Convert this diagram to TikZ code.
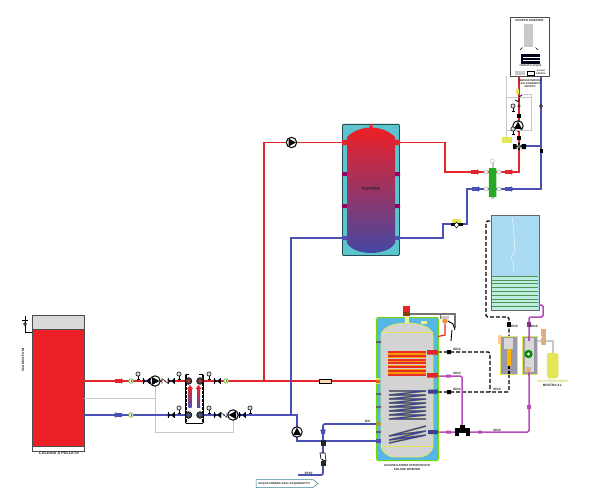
\documentclass[tikz,border=0pt]{standalone}
\usepackage{fontspec}
\setmainfont{Liberation Sans}
\definecolor{pred}{HTML}{E4252B}
\definecolor{pblue}{HTML}{4B50B4}
\definecolor{ppink}{HTML}{B84DB8}
\definecolor{boilred}{HTML}{ED2027}
\definecolor{lgray}{HTML}{C8C8C8}
\definecolor{sgreen}{HTML}{7DBF42}
\definecolor{tankblue}{HTML}{55B7E6}
\definecolor{ytank}{HTML}{E4E65A}
\definecolor{puff}{HTML}{5CC4CF}
\definecolor{modgray}{HTML}{9A9AA6}
\tikzset{
  redpipe/.style={draw=pred,line width=1.8pt},
  bluepipe/.style={draw=pblue,line width=1.8pt},
  pinkpipe/.style={draw=ppink,line width=1.5pt},
  dashpipe/.style={draw=black,line width=1.4pt,dash pattern=on 4pt off 2pt},
  ctrl/.style={draw=lgray,line width=.9pt},
  lab/.style={font=\fontsize{3.2}{3.7}\selectfont\bfseries,inner sep=0pt,align=center,text=black!85},
  bigl/.style={font=\fontsize{3.9}{4.6}\selectfont\bfseries,inner sep=0pt,align=center,text=black!85},
  valvesym/.pic={\fill[black!80!blue] (-3.2,-2.6)--(3.2,2.6)--(3.2,-2.6)--(-3.2,2.6)--cycle;\draw[black,line width=.5pt](-3.2,-2.6)--(-3.2,2.6) (3.2,-2.6)--(3.2,2.6);},
  gaugesym/.pic={\draw[black,line width=.7pt](0,0)--(0,6) (-1.5,5)--(1.5,5);\draw[black!85,line width=.7pt,fill=lgray!60] (0,0) circle (2.1);},
  pumpsym/.pic={\draw[black,line width=1pt,fill=white] (0,0) circle (5.2);\fill[black] (-3,-4)--(4.4,0)--(-3,4)--cycle;},
  checksym/.pic={\draw[black!80,line width=.6pt,fill=white] (-3,2.5)--(-3,-2.5)--(3,2.5)--(3,-2.5);},
  sensorsym/.pic={\draw[sgreen,line width=.9pt,fill=white] (0,0) circle (2.2);\fill[sgreen!70!black] (-.4,-1) rectangle (.4,1);},
  flowsym/.pic={\fill[pic actions] (-4,-1.8) rectangle (2,1.8) (2,-2.8)--(5,0)--(2,2.8)--cycle;},
  portsym/.pic={\draw[black,line width=.5pt,fill=black!75] (0,0) circle (3.4);\fill[pic actions] (0,0) circle (1.7);},
  ringsym/.pic={\draw[lgray,line width=.8pt,fill=white] (0,0) circle (2);},
}
\begin{document}
\begin{tikzpicture}[x=1pt,y=-1pt]
\useasboundingbox (0,0) rectangle (594,492);
\fill[white] (0,0) rectangle (594,492);

% named pipe points
\coordinate (bR) at (83.5,381); \coordinate (bB) at (83.5,415);
\coordinate (riser) at (264,381); \coordinate (riserT) at (264,142.5);
\coordinate (puL) at (346,142.5); \coordinate (puR) at (396,142.5);
\coordinate (r1) at (445,142.5); \coordinate (r2) at (445,172);
\coordinate (r3) at (519,172); \coordinate (r4) at (519,77);
\coordinate (acR) at (378,381);
\coordinate (bl1) at (291,415); \coordinate (bl2) at (291,238);
\coordinate (puLb) at (346,238); \coordinate (puRb) at (396,238);
\coordinate (b1) at (443,238); \coordinate (b2) at (443,224);
\coordinate (b3) at (467,224); \coordinate (b4) at (467,189);
\coordinate (b5) at (541,189); \coordinate (b6) at (541,77);
\coordinate (bp1) at (297,415); \coordinate (bp2) at (297,441); \coordinate (acB) at (378,441);
\coordinate (cw0) at (298,475); \coordinate (cw1) at (323,475); \coordinate (cw2) at (323,424); \coordinate (acC) at (380,424);

% boiler
\node[draw=black!70,fill=lgray!70,line width=.8pt,minimum width=51.5pt,minimum height=14pt,inner sep=0pt,anchor=north west] (boilertop) at (32,315) {};
\node[draw=black!70,fill=boilred,line width=.8pt,minimum width=51.5pt,minimum height=117pt,inner sep=0pt,anchor=north west] (boiler) at (32,329) {};
\node[draw=black!70,fill=white,line width=.6pt,minimum width=51.5pt,minimum height=5pt,inner sep=0pt,anchor=north west] (boilerbase) at (32,446) {};
\node[bigl] (boilerlab) at (59,453.5) {CALDAIA A PELLETS};
\node[lab,rotate=90] (fumi) at (23,360) {SCARICO FUMI};
\coordinate (flue) at (32,332);
\coordinate (flue2) at (25,332);
\coordinate (flue3) at (25,316);
\draw[black,line width=.7pt] (flue)--(flue2)--(flue3);
\draw[black,line width=.6pt,fill=white] (25,324) circle (1.4);
\draw[black,line width=.7pt] (22,320)--(28,320);

% control lines
\coordinate (c1) at (83.5,398); \coordinate (c2) at (155,398); \coordinate (c3) at (155,432);
\coordinate (c4) at (233,432); \coordinate (c5) at (233,420); \coordinate (c0) at (155,386);
\draw[ctrl] (c1)--(c2);
\draw[ctrl] (c0)--(c3)--(c4)--(c5);

% main pipes
\draw[redpipe] (bR)--(acR);
\draw[redpipe] (riser)--(riserT)--(puL);
\draw[redpipe] (puR)--(r1)--(r2)--(r3)--(r4);
\draw[bluepipe] (bB)--(bp1)--(bp2)--(acB);
\draw[bluepipe] (bl1)--(bl2)--(puLb);
\draw[bluepipe] (puRb)--(b1)--(b2)--(b3)--(b4)--(b5)--(b6);
\draw[bluepipe,rounded corners=2pt] (cw0)--(cw1)--(cw2)--(acC);
\coordinate (bt) at (519,146); \coordinate (bt2) at (541,146);
\draw[bluepipe] (bt)--(bt2);

% pumps etc
\pic at (291.5,142.5) {pumpsym};
\pic[rotate=90] at (297,432) {pumpsym};
\pic at (155,381) {pumpsym};
\pic[rotate=180] at (233,415) {pumpsym};
\pic[rotate=90] at (518,126) {pumpsym};

\foreach \p in {(146,381),(171,381),(217,381),(171,415),(217,415),(242,415)} \pic at \p {valvesym};
\foreach \p in {(138,374),(179,374),(209,374),(179,408),(209,408),(250,408)} \pic at \p {gaugesym};
\foreach \p in {(131,381),(226,381),(131,415)} \pic at \p {sensorsym};
\pic at (165,381) {checksym};
\pic at (224,415) {checksym};
\pic[fill=pred] at (119,381) {flowsym};
\pic[fill=pblue,rotate=180] at (118,415) {flowsym};

% plate exchanger
\node[draw=black,line width=.8pt,fill=white,minimum width=18pt,minimum height=49pt,inner sep=0pt,rounded corners=1pt,anchor=north west] (hx) at (185,374) {};
\draw[black,line width=2pt,dash pattern=on 2.5pt off 1.5pt] (185.5,375)--(185.5,423) (202.5,375)--(202.5,423);
\fill[white] (189,373) rectangle (199,375.5);
\shade[top color=pred,bottom color=pblue] (188.5,388) rectangle (191.5,407);
\shade[top color=pred,bottom color=pblue] (197,388) rectangle (200,407);
\fill[pred] (187,389)--(190,385)--(193,389)--cycle (195.5,389)--(198.5,385)--(201.5,389)--cycle;
\pic[fill=pred] at (188.5,381) {portsym};
\pic[fill=pred] at (200,381) {portsym};
\pic[fill=pblue] at (188.5,415) {portsym};
\pic[fill=pblue] at (200,415) {portsym};

% puffer
\node[draw=black!60!puff,fill=puff,line width=.8pt,rounded corners=1pt,minimum width=57pt,minimum height=131pt,inner sep=0pt,anchor=north west] (puffer) at (342,124) {};
\shade[top color=boilred,middle color=purple!85!blue,bottom color=pblue!90!black]
 (347,137) .. controls (353,131) and (362,127.5) .. (371,127.5) .. controls (380,127.5) and (389,131) .. (395,137)
 -- (395,243) .. controls (392,249) and (382,253) .. (371,253) .. controls (360,253) and (350,249) .. (347,243) -- cycle;
\fill[pred] (369.5,124)rectangle(372.5,128) (342,140) rectangle (347,145) (395,140) rectangle (400,145);
\fill[purple!80!blue] (342,172) rectangle (347,176) (395,172) rectangle (400,176) (342,204) rectangle (347,208) (395,204) rectangle (400,208);
\fill[pblue] (342,236) rectangle (347,240) (395,236) rectangle (400,240);
\node[lab,font=\fontsize{4.4}{5}\selectfont\bfseries] (pufferlab) at (371,189.5) {PUFFER};

% valve on return
\fill[ytank] (452,219) rectangle (461,225);
\fill[black] (451,222.5) rectangle (463,225.5);
\draw[black,fill=white,line width=.5pt] (456.5,222)--(459,225)--(456.5,228)--(454,225)--cycle;

% separator
\pic[fill=pred] at (475,172) {flowsym};
\pic[fill=pred] at (509,172) {flowsym};
\pic[fill=pblue] at (476,189) {flowsym};
\pic[fill=pblue] at (509,189) {flowsym};
\draw[lgray,fill=white,line width=.6pt] (492.5,161) circle (2);
\fill[lgray] (491.5,162) rectangle (493.5,168);
\fill[lgray] (491,197) rectangle (494,199);
\node[fill=green!60!black!85,minimum width=7.5pt,minimum height=29pt,inner sep=0pt,anchor=north west,rounded corners=.6pt] (sep) at (488.7,168) {};
\foreach \p in {(486,172),(499,172),(486,189),(499,189)} \pic at \p {ringsym};

% wall boiler
\node[draw=black!70,fill=white,line width=1pt,minimum width=39pt,minimum height=59pt,inner sep=0pt,anchor=north west] (gen) at (510,17) {};
\node[lab,font=\fontsize{2.9}{3.4}\selectfont\bfseries] (genlab) at (529.5,20.5) {GRUPPO INVERTER};
\fill[lgray] (523.5,24) rectangle (533,47);
\draw[black,line width=.6pt] (520,50)--(522.5,47.5) (538,50)--(535.5,47.5);
\fill[black!90!blue] (521,54) rectangle (540,64);
\draw[white,line width=.3pt] (523,57)--(540,57) (523,60.5)--(540,60.5);
\node[lab,font=\fontsize{2.5}{3}\selectfont\bfseries] (genlab2) at (530.5,66) {CIRCUITO ACQUA};
\fill[lgray] (515,71) rectangle (525,75);
\draw[black,line width=.3pt] (527,71) rectangle (534,75);
\node[lab,font=\fontsize{2.2}{2.6}\selectfont\bfseries] (genlab3) at (541,72.5) {ACQUA\\FREDDA};
\node[lab,font=\fontsize{2.6}{3}\selectfont\bfseries] (genlab4) at (530,84) {PREDISPOSIZIONE\\COLLEGAMENTO\\GRUPPO};

% hydraulic group
\coordinate (g1) at (506,76); \coordinate (g2) at (506,137);
\draw[lgray,line width=.7pt] (g1)--(g2);
\draw[lgray,line width=.6pt] (506,97) rectangle (531,130);
\draw[lgray,line width=.6pt] (522,94)--(531,94)--(531,97);
\fill[ytank] (502,137) rectangle (512,143);
\fill[ytank] (516,89) rectangle (518.5,94);
\pic at (513,106) {gaugesym};
\pic at (513,129) {gaugesym};
\draw[black,line width=.8pt] (515,100)--(519,102) (522,95)--(519,97)--(519,102);
\draw[black,fill=white,line width=.5pt] (519,106) circle (1.2);
\fill[black] (517,114) rectangle (521,118);
\fill[black] (517,136) rectangle (521,140);
\draw[black,line width=1.2pt] (519,143)--(519,150) (515,146.5)--(523,146.5);
\fill[black] (513,144) rectangle (516.5,149) (521.5,144) rectangle (526,149);
\fill[lgray!50!black] (519,146.5) circle (2);
\draw[black,fill=white,line width=.7pt] (541,106) circle (1.4);
\fill[black] (539.5,149) rectangle (542.5,153);

% solar tank
\node[draw=black!60,fill=tankblue!50,line width=1.1pt,minimum width=48pt,minimum height=95pt,inner sep=0pt,anchor=north west] (tank) at (491,215) {};
\fill[green!25!tankblue!35] (492,276) rectangle (538,309.5);
\foreach \y in {276,279.8,283.6,287.4,291.2,295,298.8,302.6,306.4}
  \draw[green!40!black!70,line width=.6pt] (492,\y)--(538,\y);
\draw[white,line width=.4pt] (512.5,218)--(515,250)--(511,258)--(514,264)--(513,272);
\coordinate (d1) at (490,221); \coordinate (d2) at (486,221); \coordinate (d3) at (486,317);
\coordinate (d4) at (509,317); \coordinate (d5) at (509,336);
\coordinate (d6) at (509,374); \coordinate (d7) at (509,392); \coordinate (d8) at (438,392);
\coordinate (d9) at (438,352); \coordinate (d10) at (490,352); \coordinate (d11) at (490,392);
\draw[dashpipe,rounded corners=1.5pt] (d1)--(d2)--(d3)--(d4)--(d5);
\draw[dashpipe,rounded corners=1.5pt] (d6)--(d7)--(d8);
\draw[dashpipe,rounded corners=1.5pt] (d9)--(d10)--(d11);
\coordinate (k1) at (539,305); \coordinate (k2) at (543,305); \coordinate (k3) at (543,317);
\coordinate (k4) at (529,317); \coordinate (k5) at (529,336); \coordinate (k6) at (529,374);
\coordinate (k7) at (529,432); \coordinate (k8) at (438,432);
\coordinate (k9) at (438,376); \coordinate (k10) at (462,376); \coordinate (k11) at (462,431);
\draw[pinkpipe,rounded corners=1.5pt] (k1)--(k2)--(k3)--(k4)--(k5);
\draw[pinkpipe,rounded corners=1.5pt] (k6)--(k7)--(k8);
\draw[pinkpipe,rounded corners=1.5pt] (k9)--(k10)--(k11);
\fill[black] (507,322) rectangle (511,327);
\fill[ppink!70!black] (527,322) rectangle (531,327);
\fill[black] (447,350) rectangle (451,354) (447,390) rectangle (451,394);
\fill[ppink] (446,374.5) rectangle (451,377.5) (446,430.5) rectangle (451,433.5) (478,430.5) rectangle (482,433.5) (527,405) rectangle (531,409);
\node[lab] (l1) at (457,349.5) {9010};
\node[lab] (l2) at (457,373) {9010};
\node[lab] (l3) at (457,389) {9010};
\node[lab] (l4) at (497,389.5) {9010};
\node[lab] (l5) at (514,326) {9010};
\node[lab] (l6) at (534,326) {9010};
\node[lab] (l7) at (497,430) {9010};

% modules
\node[draw=ytank,fill=modgray,line width=1.1pt,minimum width=17pt,minimum height=38pt,inner sep=0pt,anchor=north west] (modL) at (500,336) {};
\node[draw=ytank,fill=modgray,line width=1.1pt,minimum width=15pt,minimum height=38pt,inner sep=0pt,anchor=north west] (modR) at (522,336) {};
\fill[lgray!70] (504,338) rectangle (513,349);
\fill[orange!60!yellow] (506.5,349) rectangle (510.5,366);
\fill[orange!40!white] (498,335) rectangle (501,344);
\fill[lgray!70] (525,338) rectangle (534,372);
\fill[green!55!black] (528.5,354) circle (4.2);
\fill[white] (528.5,354) circle (1.6);
\fill[orange!30!lgray] (526,367) rectangle (531,373);
\draw[black,line width=1.3pt,dash pattern=on 3pt off 2pt] (509,366)--(509,375);
\draw[ppink,line width=1.3pt] (529,336)--(529,341) (529,372)--(529,376);

% expansion vessel
\draw[lgray,line width=2pt] (537,341)--(553,341)--(553,353);
\fill[orange!35!lgray] (540.5,329) rectangle (545.5,345);
\fill[white] (541,337) circle (1.3);
\draw[ytank,fill=ytank,line width=.5pt,rounded corners=2.5pt] (547,353) rectangle (558,378);
\node[lab,text=ytank!90!black] (v1) at (552.5,381) {VASO ESPANSIONE};
\node[lab] (v2) at (552.5,385.5) {MOSTRA 8 L};

% storage tank
\node[draw=green!45!yellow!85!black,fill=tankblue,line width=1pt,rounded corners=2pt,minimum width=62pt,minimum height=143pt,inner sep=0pt,anchor=north west] (acc) at (376,317) {};
\filldraw[fill=lgray!80,draw=ytank,line width=.8pt]
 (381,336) .. controls (381,327) and (395,323) .. (407,323) .. controls (419,323) and (433,327) .. (433,336)
 -- (433,446) .. controls (433,452) and (425,457) .. (420,457) -- (394,457) .. controls (389,457) and (381,452) .. (381,446) -- cycle;
\draw[ytank,line width=.8pt] (381,332.5)--(433,332.5) (381,446)--(433,446);
\fill[ytank!60] (405,316)rectangle(409,323);
\fill[ytank!60] (421,320.5) rectangle (427,324);
\fill[pred] (403,306) rectangle (410,312);
\fill[orange!50!black] (403,312) rectangle (410,316);
% coils
\foreach \y in {352,355.8,359.6,363.4,367.2,371,374.8}{
  \draw[pred!90!orange,line width=1.9pt] (388,\y)--(426,\y);}
\foreach \y in {353.9,357.7,361.5,365.3,369.1,372.9}{
  \draw[orange!80!yellow,line width=1.2pt] (388,\y)--(426,\y);}
\draw[ytank!75!black,line width=1.8pt] (389,391)--(426,391)--(389,395)--(426,395)--(389,399)--(426,399)--(389,403)--(426,403)--(389,407)--(426,407)--(389,411)--(426,411)--(389,415)--(426,415)--(389,419)--(426,419);
\draw[pblue!85!black,line width=1.2pt] (389,391)--(426,391)--(389,395)--(426,395)--(389,399)--(426,399)--(389,403)--(426,403)--(389,407)--(426,407)--(389,411)--(426,411)--(389,415)--(426,415)--(389,419)--(426,419);
\draw[ytank!75!black,line width=1.8pt] (426,426)--(389,436)--(426,431)--(389,440)--(426,435)--(389,443);
\draw[pblue!85!black,line width=1.2pt] (426,426)--(389,436)--(426,431)--(389,440)--(426,435)--(389,443);
\fill[pred] (427,350) rectangle (438,354.5) (427,373) rectangle (438,377.5);
\fill[pblue!80!black] (428,389.5) rectangle (438,393.5) (428,430) rectangle (438,434);
\fill[ytank] (376,378)rectangle(380,384);
\fill[orange!60!pred] (376,379.5) rectangle (380,382.5);
\fill[black!60] (376,341) rectangle (381,343) (376,393) rectangle (381,395) (376,406) rectangle (381,408) (376,431) rectangle (381,433);
\fill[pblue] (376,439) rectangle (381,443);
\fill[ytank!70!black] (376,422) rectangle (381,426);
\node[bigl,font=\fontsize{2.9}{4.2}\selectfont\bfseries] (acclab) at (407,467.5) {ACCUMULATORE STRATIFICATO\\SOLARE RIDENDO};

% top valves
\coordinate (t1) at (410,314); \coordinate (t2) at (455,314); \coordinate (t3) at (455,328);
\draw[black!55,line width=1.2pt] (t1)--(t2)--(t3);
\draw[black!55,line width=.9pt] (440,314)--(440,319);
\fill[orange!70!lgray] (445,321) circle (2.8);
\fill[lgray] (441,316) rectangle (449,318.5);
\draw[pred,line width=1.2pt] (445,324)--(445,335)--(438,336.5);
\draw[black,line width=.9pt] (448,321)--(453,324)--(455,330) (452,330)--(451,341);

% heat flange
\node[draw=black,fill=orange!30,line width=.7pt,minimum width=12pt,minimum height=4pt,inner sep=0pt] (flange) at (325,381) {};

% three-way valve
\fill[black] (455,428) rectangle (470,436);
\fill[white] (459,433) rectangle (466,436);
\fill[black] (459.5,425) rectangle (464.5,430);

% cold water
\fill[black!85] (320.5,440) rectangle (325.5,446);
\fill[pblue] (321,430) -- (325,430)--(325,434)--(321,434)--cycle (323,427.5)--(326,431)--(320,431)--cycle;
\draw[black,line width=.6pt,fill=white] (320,453)--(325,453)--(326,461)--(321,459)--cycle;
\fill[black!85] (321,461) rectangle (325.5,466);
\node[lab] (sp) at (308.5,473) {SP10};
\node[lab] (dn) at (367.5,421.5) {DN};
\draw[tankblue!70!black,line width=.5pt,fill=white] (256,479.5)--(313,479.5)--(318,483.5)--(313,487.5)--(256,487.5)--cycle;
\node[lab,font=\fontsize{2.8}{3.2}\selectfont\bfseries] (acqua) at (284,483.5) {ACQUA FREDDA DALL'ACQUEDOTTO};
\end{tikzpicture}
\end{document}
